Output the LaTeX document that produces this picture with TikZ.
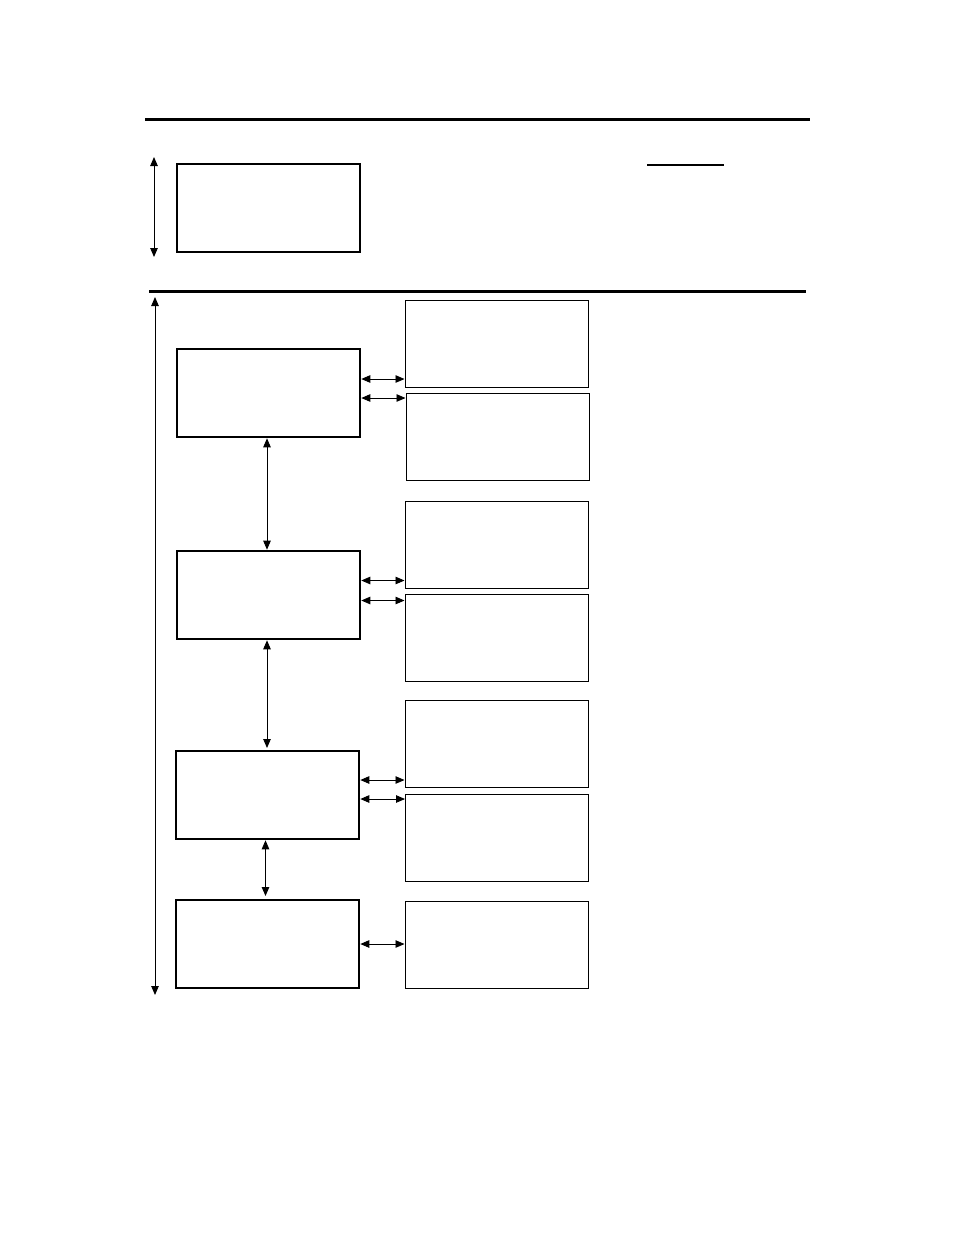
\documentclass[tikz,border=0pt]{standalone}
\usetikzlibrary{arrows.meta,positioning}

\begin{document}
\begin{tikzpicture}[x=1pt, y=-1pt,
  stage/.style={draw, line width=2.6pt, minimum width=183pt, minimum height=88pt, inner sep=0pt, outer sep=0pt},
  detail/.style={draw, line width=0.9pt, minimum width=183pt, minimum height=87pt, inner sep=0pt, outer sep=0pt},
  link/.style={{Triangle[length=9pt,width=7.5pt]}-{Triangle[length=9pt,width=7.5pt]}, line width=0.9pt, shorten <=1.3pt, shorten >=0.5pt},
  rule/.style={line width=3pt}
]
\useasboundingbox (0,0) rectangle (954,1235);

% header
\draw[rule] (145,119) -- (810,119);
\draw[line width=2pt] (647,165) -- (724,165);
\node[stage] (top) at (268.5,208) {};
\coordinate (spanTop) at (154,157);
\coordinate (spanBot) at (154,257);
\draw[link, shorten <=0pt, shorten >=0pt] (spanTop) -- (spanBot);
\draw[rule] (149,291) -- (806,291);

% stages
\node[stage] (stageA) at (268.5,393) {};
\node[stage, below=114pt of stageA] (stageB) {};
\node[stage, below=112pt of stageB, xshift=-1pt] (stageC) {};
\node[stage, below=61pt of stageC] (stageD) {};

% details
\node[detail] (detailAa) at (496.5,343.5) {};
\node[detail, below=6pt of detailAa, xshift=1pt] (detailAb) {};
\node[detail] (detailBa) at (496.5,544.5) {};
\node[detail, below=6pt of detailBa] (detailBb) {};
\node[detail] (detailCa) at (496.5,744) {};
\node[detail, below=7pt of detailCa, xshift=0.5pt] (detailCb) {};
\node[detail] (detailD) at (496.5,945) {};

% links
\draw[link] ([yshift=14pt]stageA.east) -- ([yshift=14pt]stageA.east -| detailAa.west);
\draw[link] ([yshift=-5pt]stageA.east) -- ([yshift=-5pt]stageA.east -| detailAb.west);
\draw[link] ([yshift=14.5pt]stageB.east) -- ([yshift=14.5pt]stageB.east -| detailBa.west);
\draw[link] ([yshift=-5.5pt]stageB.east) -- ([yshift=-5.5pt]stageB.east -| detailBb.west);
\draw[link] ([yshift=15pt]stageC.east) -- ([yshift=15pt]stageC.east -| detailCa.west);
\draw[link] ([yshift=-4pt]stageC.east) -- ([yshift=-4pt]stageC.east -| detailCb.west);
\draw[link] (stageD.east) -- (stageD.east -| detailD.west);

\draw[link, shorten >=1.3pt] ([xshift=-1.5pt]stageA.south) -- ([xshift=-1.5pt]stageA.south |- stageB.north);
\draw[link, shorten >=3pt] ([xshift=-1.5pt]stageB.south) -- ([xshift=-1.5pt]stageB.south |- stageC.north);
\draw[link, shorten >=4pt] ([xshift=-2pt]stageC.south) -- ([xshift=-2pt]stageC.south |- stageD.north);

% overall span
\coordinate (flowTop) at (155,297);
\coordinate (flowBot) at (155,995);
\draw[link, shorten <=0pt, shorten >=0pt] (flowTop) -- (flowBot);
\end{tikzpicture}
\end{document}
